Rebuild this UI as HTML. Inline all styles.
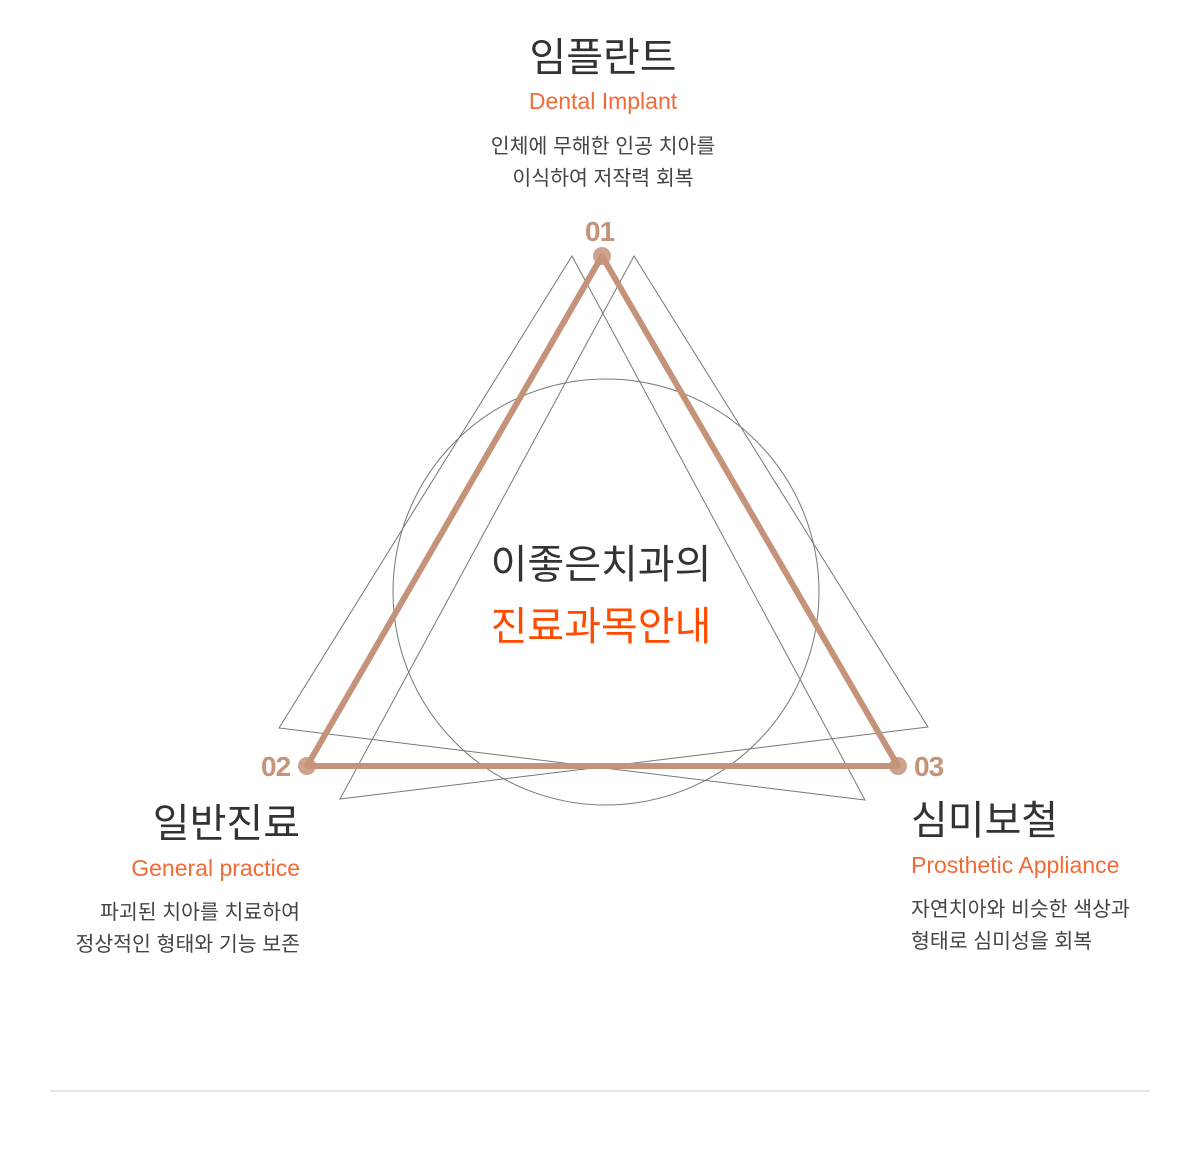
<!DOCTYPE html>
<html><head><meta charset="utf-8"><style>
body{margin:0;width:1200px;height:1150px;background:#fff;position:relative;overflow:hidden;font-family:"Liberation Sans","Noto Sans CJK KR",sans-serif;}
.a{position:absolute;white-space:nowrap;}
.t{font-size:40px;color:#333;line-height:44px;}
.e{font-size:23px;color:#f26a35;line-height:26px;}
.d{font-size:20.5px;color:#444;line-height:32px;}
.n{font-size:28px;color:#c4937a;font-weight:bold;line-height:30px;letter-spacing:-1px;}
</style></head><body>
<svg class="a" style="left:0;top:0" width="1200" height="1150">
<circle cx="606" cy="592" r="213" fill="none" stroke="#777" stroke-width="1"/>
<polygon points="572,256 865,800 279,728" fill="none" stroke="#777" stroke-width="1"/>
<polygon points="634,256 928,727 340,799" fill="none" stroke="#777" stroke-width="1"/>
<polygon points="602,256 898,766 307,766" fill="none" stroke="#c4937a" stroke-width="6" stroke-linejoin="round"/>
<circle cx="602" cy="256" r="9" fill="#c4937a" opacity="0.85"/>
<circle cx="307" cy="766" r="9" fill="#c4937a" opacity="0.85"/>
<circle cx="898" cy="766" r="9" fill="#c4937a" opacity="0.85"/>
<line x1="50" y1="1091" x2="1150" y2="1091" stroke="#ccc" stroke-width="1"/>
</svg>
<div class="a t" style="left:403px;width:400px;text-align:center;top:36px">임플란트</div>
<div class="a e" style="left:403px;width:400px;text-align:center;top:88px">Dental Implant</div>
<div class="a d" style="left:403px;width:400px;text-align:center;top:131px">인체에 무해한 인공 치아를<br>이식하여 저작력 회복</div>
<div class="a n" style="left:585px;top:217px">01</div>
<div class="a n" style="left:261px;top:752px">02</div>
<div class="a n" style="left:914px;top:752px">03</div>
<div class="a t" style="left:401px;width:400px;text-align:center;top:543px">이좋은치과의</div>
<div class="a t" style="left:401px;width:400px;text-align:center;top:605px;color:#ff4b00">진료과목안내</div>
<div class="a t" style="right:900px;text-align:right;top:802px">일반진료</div>
<div class="a e" style="right:900px;text-align:right;top:855px">General practice</div>
<div class="a d" style="right:900px;text-align:right;top:897px">파괴된 치아를 치료하여<br>정상적인 형태와 기능 보존</div>
<div class="a t" style="left:911px;top:799px">심미보철</div>
<div class="a e" style="left:911px;top:852px">Prosthetic Appliance</div>
<div class="a d" style="left:911px;top:894px">자연치아와 비슷한 색상과<br>형태로 심미성을 회복</div>
</body></html>
